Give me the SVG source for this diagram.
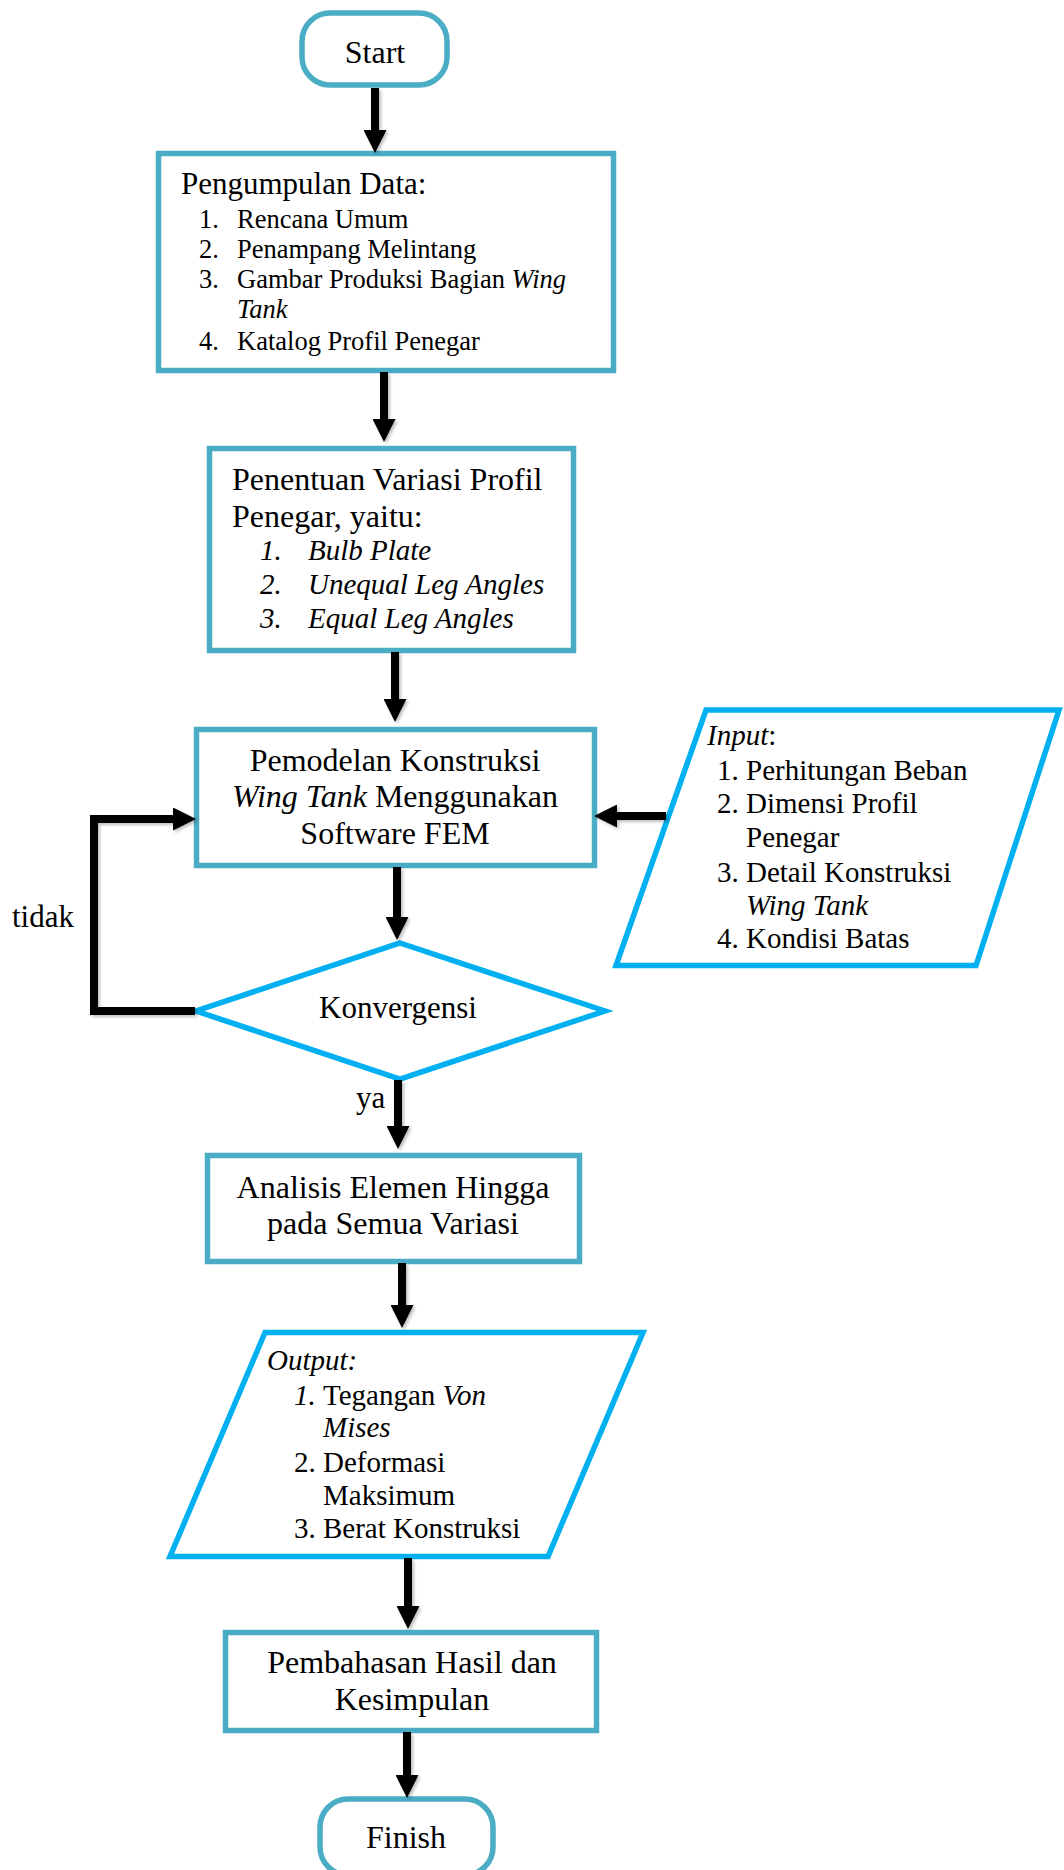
<svg xmlns="http://www.w3.org/2000/svg" width="1064" height="1870" viewBox="0 0 1064 1870">
<style>
.box{fill:#fff;stroke:#4BACC6;stroke-width:5.5}
.io{fill:#fff;stroke:#00B0F0;stroke-width:5.5;stroke-linejoin:miter}
text{font-family:"Liberation Serif","Times New Roman",serif;fill:#000}
.t32{font-size:32px}
.t31{font-size:31px}
.t29{font-size:29px}
.t26{font-size:26.5px}
.c{text-anchor:middle}
.i{font-style:italic}
.con{fill:none;stroke:#000;stroke-width:8;stroke-linejoin:miter;marker-end:url(#ah)}
</style>
<defs>
<marker id="ah" markerUnits="userSpaceOnUse" viewBox="0 0 23 23" markerWidth="23" markerHeight="23" refX="3" refY="11.5" orient="auto">
<path d="M0,0 L23,11.5 L0,23 z" fill="#000"/>
</marker>
<filter id="sh" x="-20%" y="-20%" width="140%" height="140%">
<feDropShadow dx="2" dy="2" stdDeviation="1.5" flood-color="#000" flood-opacity="0.25"/>
</filter>
</defs>
<rect width="1064" height="1870" fill="#fff"/>

<g id="start">
<rect class="box" x="302" y="13" width="145" height="72" rx="28"/>
<text class="t32 c" x="375" y="63">Start</text>
</g>

<g id="pengumpulan">
<rect class="box" x="158.5" y="153.5" width="455" height="217"/>
<text class="t31" x="181" y="194">Pengumpulan Data:</text>
<text class="t26" x="199" y="228">1.</text><text class="t26" x="237" y="228">Rencana Umum</text>
<text class="t26" x="199" y="258">2.</text><text class="t26" x="237" y="258">Penampang Melintang</text>
<text class="t26" x="199" y="288">3.</text><text class="t26" x="237" y="288">Gambar Produksi Bagian <tspan class="i">Wing</tspan></text>
<text class="t26 i" x="237" y="318">Tank</text>
<text class="t26" x="199" y="350">4.</text><text class="t26" x="237" y="350">Katalog Profil Penegar</text>
</g>

<g id="penentuan">
<rect class="box" x="209.5" y="448.5" width="364" height="202"/>
<text class="t32" x="232" y="490">Penentuan Variasi Profil</text>
<text class="t32" x="232" y="527">Penegar, yaitu:</text>
<text class="t29 i" x="260" y="560">1.</text><text class="t29 i" x="308" y="560">Bulb Plate</text>
<text class="t29 i" x="260" y="594">2.</text><text class="t29 i" x="308" y="594">Unequal Leg Angles</text>
<text class="t29 i" x="260" y="628">3.</text><text class="t29 i" x="308" y="628">Equal Leg Angles</text>
</g>

<g id="pemodelan">
<rect class="box" x="196.5" y="729.5" width="398" height="136"/>
<text class="t32 c" x="395" y="771">Pemodelan Konstruksi</text>
<text class="t32 c" x="395" y="807"><tspan class="i">Wing Tank</tspan> Menggunakan</text>
<text class="t32 c" x="395" y="844">Software FEM</text>
</g>

<g id="input">
<polygon class="io" points="706,710 1059,710 976,965.5 616,965.5"/>
<text class="t29" x="707" y="745"><tspan class="i">Input</tspan>:</text>
<text class="t29" x="717" y="780">1.</text><text class="t29" x="746" y="780">Perhitungan Beban</text>
<text class="t29" x="717" y="813">2.</text><text class="t29" x="746" y="813">Dimensi Profil</text>
<text class="t29" x="746" y="847">Penegar</text>
<text class="t29" x="717" y="882">3.</text><text class="t29" x="746" y="882">Detail Konstruksi</text>
<text class="t29 i" x="746" y="915">Wing Tank</text>
<text class="t29" x="717" y="948">4.</text><text class="t29" x="746" y="948">Kondisi Batas</text>
</g>

<g id="konvergensi">
<polygon class="io" points="400,943 605,1011 400,1079 196,1011"/>
<text class="t31 c" x="398" y="1018">Konvergensi</text>
</g>

<g id="analisis">
<rect class="box" x="207.5" y="1155.5" width="372" height="106"/>
<text class="t32 c" x="393" y="1198">Analisis Elemen Hingga</text>
<text class="t32 c" x="393" y="1234">pada Semua Variasi</text>
</g>

<g id="output">
<polygon class="io" points="265,1332.5 643,1332.5 548,1556.5 170,1556.5"/>
<text class="t29 i" x="267" y="1370">Output:</text>
<text class="t29 i" x="294" y="1405">1.</text><text class="t29" x="323" y="1405">Tegangan <tspan class="i">Von</tspan></text>
<text class="t29 i" x="323" y="1437">Mises</text>
<text class="t29" x="294" y="1472">2.</text><text class="t29" x="323" y="1472">Deformasi</text>
<text class="t29" x="323" y="1505">Maksimum</text>
<text class="t29" x="294" y="1538">3.</text><text class="t29" x="323" y="1538">Berat Konstruksi</text>
</g>

<g id="pembahasan">
<rect class="box" x="225.5" y="1632.5" width="371" height="98"/>
<text class="t32 c" x="412" y="1673">Pembahasan Hasil dan</text>
<text class="t32 c" x="412" y="1710">Kesimpulan</text>
</g>

<g id="finish">
<rect class="box" x="320" y="1799" width="173" height="76" rx="28"/>
<text class="t32 c" x="406" y="1848">Finish</text>
</g>

<g id="connectors" filter="url(#sh)">
<path class="con" d="M375,88 V133"/>
<path class="con" d="M384,372 V422"/>
<path class="con" d="M395,652 V702"/>
<path class="con" d="M397,867 V920"/>
<path class="con" d="M398,1080 V1129"/>
<path class="con" d="M402,1263 V1308"/>
<path class="con" d="M408,1558 V1609"/>
<path class="con" d="M407,1732 V1778"/>
<path class="con" d="M666,816 H614"/>
<path class="con" d="M195,1011 H94 V819 H176"/>
</g>

<g id="labels">
<text class="t31" x="12" y="927">tidak</text>
<text class="t31" x="356" y="1108">ya</text>
</g>
</svg>
